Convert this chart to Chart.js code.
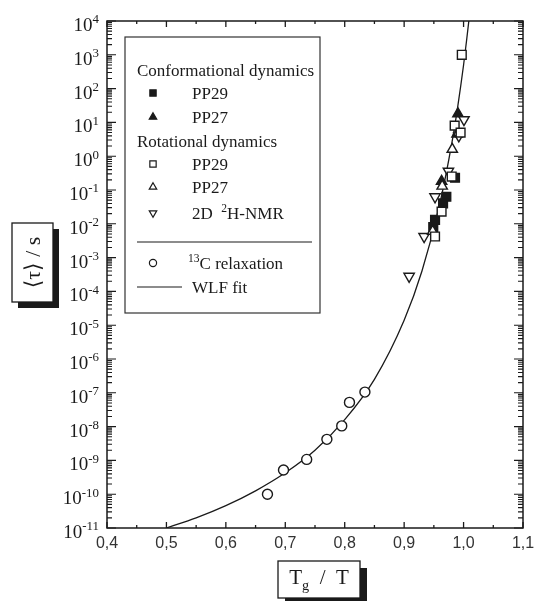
<!DOCTYPE html>
<html>
<head>
<meta charset="utf-8">
<script src="https://cdn.jsdelivr.net/npm/chart.js@4"></script>
<style>
  body { margin: 0; background: #fff; }
  canvas { display: block; }
</style>
</head>
<body>
<canvas id="chart" width="536" height="601"></canvas>
<script>
// axis ticks
const xTickValues = [0.4, 0.5, 0.6, 0.7, 0.8, 0.9, 1.0, 1.1];
const xTickLabels = ['0,4', '0,5', '0,6', '0,7', '0,8', '0,9', '1,0', '1,1'];
const yExponents = [4, 3, 2, 1, 0, -1, -2, -3, -4, -5, -6, -7, -8, -9, -10, -11];

// conformational dynamics
const confPP29X = [0.9856, 0.971, 0.9655, 0.952, 0.949];
const confPP29Tau = [0.23, 0.063, 0.04, 0.013, 0.008];
const confPP27X = [0.9906, 0.989, 0.963];
const confPP27Tau = [18, 4.5, 0.18];

// rotational dynamics
const rotPP29X = [0.997, 0.985, 0.995, 0.98, 0.963, 0.952];
const rotPP29Tau = [1000, 8, 5, 0.25, 0.023, 0.0042];
const rotPP27X = [0.981, 0.964, 0.948];
const rotPP27Tau = [1.6, 0.13, 0.006];
const nmrX = [1.0007, 0.992, 0.9745, 0.952, 0.9336, 0.9084];
const nmrTau = [12, 4, 0.36, 0.063, 0.0042, 2.8e-4];

// 13C relaxation
const c13X = [0.670, 0.697, 0.736, 0.770, 0.795, 0.808, 0.834];
const c13Tau = [1.0e-10, 5.2e-10, 1.07e-9, 4.2e-9, 1.05e-8, 5.2e-8, 1.05e-7];

// WLF fit curve
const wlfX = [0.5, 0.55, 0.6, 0.65, 0.7, 0.75, 0.8, 0.85, 0.9, 0.93, 0.96, 0.98, 0.99, 1.0, 1.005, 1.01, 1.015];
const wlfTau = [1e-11, 2.0e-11, 4.6e-11, 1.26e-10, 4.3e-10, 2.0e-9, 1.6e-8, 2.5e-7, 1.4e-5, 4.0e-4, 0.039, 2.3, 28, 500, 2600, 15000, 1e5];

const ink = '#1a1a1a';
const serif = "'Liberation Serif', 'DejaVu Serif', serif";
const sans = "'Liberation Sans', Arial, sans-serif";

const pts = (xs, ys) => xs.map((v, i) => ({ x: v, y: ys[i] }));

const markers = {
  confPP29: { pointStyle: 'rect', radius: 6.2, rotation: 0, fill: ink },
  confPP27: { pointStyle: 'triangle', radius: 6, rotation: 0, fill: ink },
  rotPP29: { pointStyle: 'rect', radius: 6.2, rotation: 0, fill: '#fff' },
  rotPP27: { pointStyle: 'triangle', radius: 6, rotation: 0, fill: '#fff' },
  nmr: { pointStyle: 'triangle', radius: 6, rotation: 180, fill: '#fff' },
  c13: { pointStyle: 'circle', radius: 5, rotation: 0, fill: '#fff' }
};

const markerSet = (label, data, m) => ({
  label: label,
  data: data,
  pointStyle: m.pointStyle,
  pointRadius: m.radius,
  pointRotation: m.rotation,
  pointBackgroundColor: m.fill,
  pointBorderColor: ink,
  pointBorderWidth: 1.4,
  showLine: false,
  order: 0
});

// draws text with raised/lowered parts: [text, 'sup' | 'sub' | undefined]
function drawRich(ctx, parts, x, y, size) {
  parts.forEach(([text, kind]) => {
    const s = kind ? size * 0.68 : size;
    ctx.font = s + 'px ' + serif;
    const dy = kind === 'sup' ? -size * 0.4 : kind === 'sub' ? size * 0.3 : 0;
    ctx.fillText(text, x, y + dy);
    x += ctx.measureText(text).width;
  });
  return x;
}

function richWidth(ctx, parts, size) {
  let w = 0;
  parts.forEach(([text, kind]) => {
    ctx.font = (kind ? size * 0.68 : size) + 'px ' + serif;
    w += ctx.measureText(text).width;
  });
  return w;
}

function shadowBox(ctx, x, y, w, h, off) {
  ctx.fillStyle = ink;
  ctx.fillRect(x + off, y + off, w, h);
  ctx.fillStyle = '#fff';
  ctx.fillRect(x, y, w, h);
  ctx.strokeStyle = ink;
  ctx.lineWidth = 1.3;
  ctx.strokeRect(x, y, w, h);
}

const framePlugin = {
  id: 'frame',
  afterDraw(chart) {
    const { ctx, chartArea: a, scales: { x, y } } = chart;
    ctx.save();
    ctx.strokeStyle = ink;
    ctx.lineWidth = 1.5;
    ctx.strokeRect(a.left, a.top, a.right - a.left, a.bottom - a.top);

    // x ticks, bottom and top, pointing inwards
    ctx.lineWidth = 1.3;
    for (let v = 0.4; v <= 1.1001; v += 0.05) {
      const px = x.getPixelForValue(v);
      const major = Math.abs(v * 10 - Math.round(v * 10)) < 1e-6;
      const len = major ? 6 : 3;
      ctx.beginPath();
      ctx.moveTo(px, a.bottom); ctx.lineTo(px, a.bottom - len);
      ctx.moveTo(px, a.top); ctx.lineTo(px, a.top + len);
      ctx.stroke();
    }

    // y ticks, log decades with minor ticks
    ctx.lineWidth = 1.1;
    yExponents.forEach((e) => {
      for (let k = 1; k <= 9; k++) {
        if (e === 4 && k > 1) break;
        const py = y.getPixelForValue(k * Math.pow(10, e));
        const len = k === 1 ? 9 : 5;
        ctx.beginPath();
        ctx.moveTo(a.left, py); ctx.lineTo(a.left + len, py);
        ctx.moveTo(a.right, py); ctx.lineTo(a.right - len, py);
        ctx.stroke();
      }
    });

    // x tick labels
    ctx.fillStyle = '#333';
    ctx.font = '16px ' + sans;
    ctx.textAlign = 'center';
    ctx.textBaseline = 'middle';
    xTickValues.forEach((v, i) => {
      ctx.fillText(xTickLabels[i], x.getPixelForValue(v), a.bottom + 16);
    });

    // y tick labels 10^n
    ctx.fillStyle = ink;
    ctx.textAlign = 'left';
    ctx.textBaseline = 'alphabetic';
    yExponents.forEach((e) => {
      const py = y.getPixelForValue(Math.pow(10, e));
      const parts = [['10'], [String(e), 'sup']];
      const w = richWidth(ctx, parts, 19);
      drawRich(ctx, parts, 99 - w, py + 10, 19);
    });

    // axis titles in shadowed boxes
    shadowBox(ctx, 278, 561, 82, 37, 7);
    ctx.fillStyle = ink;
    const xt = [['T'], ['g', 'sub'], ['  /  T']];
    drawRich(ctx, xt, 319 - richWidth(ctx, xt, 21) / 2, 584, 21);

    shadowBox(ctx, 12, 223, 41, 79, 6);
    ctx.save();
    ctx.translate(40, 262.5);
    ctx.rotate(-Math.PI / 2);
    ctx.fillStyle = ink;
    ctx.font = '22px ' + serif;
    ctx.textAlign = 'center';
    ctx.fillText('\u27E8\u03C4\u27E9 / s', 0, 0);
    ctx.restore();

    // legend
    ctx.fillStyle = '#fff';
    ctx.fillRect(125, 37, 195, 276);
    ctx.strokeStyle = '#333';
    ctx.lineWidth = 1.2;
    ctx.strokeRect(125, 37, 195, 276);

    const fs = 17;
    const rows = [
      { text: [['Conformational dynamics']], y: 76, head: true },
      { text: [['PP29']], y: 99, m: markers.confPP29 },
      { text: [['PP27']], y: 123, m: markers.confPP27 },
      { text: [['Rotational dynamics']], y: 147, head: true },
      { text: [['PP29']], y: 170, m: markers.rotPP29 },
      { text: [['PP27']], y: 193, m: markers.rotPP27 },
      { text: [['2D  '], ['2', 'sup'], ['H-NMR']], y: 219, m: markers.nmr },
      { text: [['13', 'sup'], ['C relaxation']], y: 269, m: markers.c13, tx: 188 },
      { text: [['WLF fit']], y: 293, line: true }
    ];
    rows.forEach((r) => {
      ctx.fillStyle = ink;
      drawRich(ctx, r.text, r.head ? 137 : (r.tx || 192), r.y, fs);
      const my = r.y - 6;
      if (r.m) {
        ctx.fillStyle = r.m.fill;
        ctx.strokeStyle = ink;
        ctx.lineWidth = 1.2;
        Chart.helpers.drawPoint(ctx, {
          pointStyle: r.m.pointStyle,
          radius: r.m.radius * 0.72,
          rotation: r.m.rotation,
          borderWidth: 1.2
        }, 153, my);
      }
      if (r.line) {
        ctx.strokeStyle = ink;
        ctx.lineWidth = 1.2;
        ctx.beginPath();
        ctx.moveTo(137, my); ctx.lineTo(182, my);
        ctx.stroke();
      }
    });
    ctx.strokeStyle = ink;
    ctx.lineWidth = 1.1;
    ctx.beginPath();
    ctx.moveTo(137, 242); ctx.lineTo(312, 242);
    ctx.stroke();

    ctx.restore();
  }
};

new Chart(document.getElementById('chart'), {
  type: 'scatter',
  data: {
    datasets: [
      {
        label: 'WLF fit',
        data: pts(wlfX, wlfTau),
        showLine: true,
        borderColor: ink,
        borderWidth: 1.3,
        pointRadius: 0,
        cubicInterpolationMode: 'monotone',
        order: 10
      },
      markerSet('13C relaxation', pts(c13X, c13Tau), markers.c13),
      markerSet('Rotational PP29', pts(rotPP29X, rotPP29Tau), markers.rotPP29),
      markerSet('Rotational PP27', pts(rotPP27X, rotPP27Tau), markers.rotPP27),
      markerSet('2D 2H-NMR', pts(nmrX, nmrTau), markers.nmr),
      markerSet('Conformational PP29', pts(confPP29X, confPP29Tau), markers.confPP29),
      markerSet('Conformational PP27', pts(confPP27X, confPP27Tau), markers.confPP27)
    ]
  },
  options: {
    responsive: false,
    animation: false,
    layout: { padding: { left: 107, top: 21, right: 13, bottom: 73 } },
    plugins: { legend: { display: false }, tooltip: { enabled: false } },
    scales: {
      x: { type: 'linear', min: 0.4, max: 1.1, display: false },
      y: { type: 'logarithmic', min: 1e-11, max: 1e4, display: false }
    }
  },
  plugins: [framePlugin]
});
</script>
</body>
</html>
